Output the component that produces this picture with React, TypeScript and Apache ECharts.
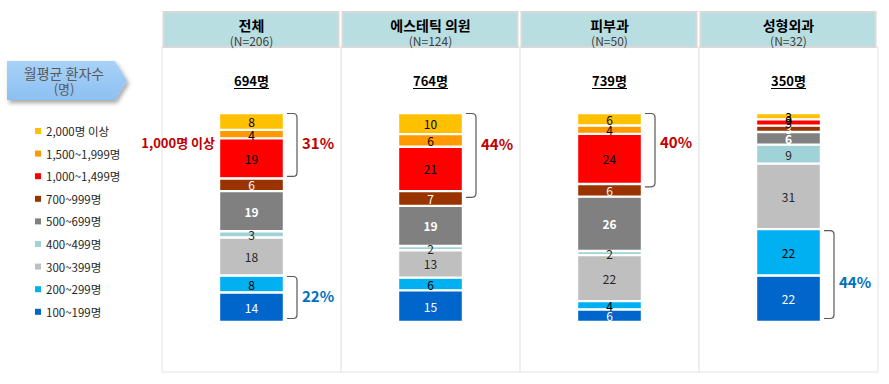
import React, { useEffect, useRef } from "react";
import * as echarts from "echarts";

const FONT = "'Noto Sans CJK KR', 'Noto Sans', sans-serif";

const categories = ["전체", "에스테틱 의원", "피부과", "성형외과"];
const nCounts = ["(N=206)", "(N=124)", "(N=50)", "(N=32)"];
const totals = ["694명", "764명", "739명", "350명"];

// bands, bottom to top
const bandNames = [
  "100~199명",
  "200~299명",
  "300~399명",
  "400~499명",
  "500~699명",
  "700~999명",
  "1,000~1,499명",
  "1,500~1,999명",
  "2,000명 이상",
];
const v100 = [14, 15, 6, 22];
const v200 = [8, 6, 4, 22];
const v300 = [18, 13, 22, 31];
const v400 = [3, 2, 2, 9];
const v500 = [19, 19, 26, 6];
const v700 = [6, 7, 6, 3];
const v1000 = [19, 21, 24, 3];
const v1500 = [4, 6, 4, 0];
const v2000 = [8, 10, 6, 3];
const bandValues = [v100, v200, v300, v400, v500, v700, v1000, v1500, v2000];

const bandColors = ["#0066CC", "#00B0F0", "#BFBFBF", "#A0D3D8", "#808080", "#993300", "#FF0000", "#FF9900", "#FFC000"];
const labelColors = ["#ffffff", "#000000", "#262626", "#262626", "#ffffff", "#ffffff", "#000000", "#000000", "#000000"];
const labelBold = [false, false, false, false, true, false, false, false, false];

// bracket annotations: [category index, from value, to value]
const bracketCats = [0, 1, 2, 0, 3];
const bracketFrom = [68, 58, 63, 0, 0];
const bracketTo = [100, 100, 100, 22, 44];
const bracketTexts = ["31%", "44%", "40%", "22%", "44%"];
const bracketKinds = ["high", "high", "high", "low", "low"];
const bracketLabelDy = [-2, -12, -9, -2, 7];
const sideNote = "1,000명 이상";

const RED = "#C00000";
const BLUE = "#0070C0";

const GRID_LEFT = 162;
const PANEL_W = 179;

export default function App() {
  const ref = useRef<HTMLDivElement>(null);
  useEffect(() => {
    if (!ref.current) return;
    const chart = echarts.init(ref.current, undefined, { renderer: "svg" });

    const colSums = categories.map((_, ci) => bandValues.reduce((s, arr) => s + arr[ci], 0));

    const measure = (t: string, font: string) => {
      const c = document.createElement("canvas").getContext("2d");
      if (!c) return t.length * 9;
      c.font = font;
      return c.measureText(t).width;
    };

    const barSeries = bandNames.map((name, bi) => ({
      name,
      type: "bar",
      stack: "total",
      barWidth: 65,
      data: bandValues[bi].map((v, ci) => ({ value: (v / colSums[ci]) * 100, raw: v })),
      itemStyle: { color: bandColors[bi], borderColor: "#ffffff", borderWidth: 1.2 },
      label: {
        show: true,
        position: "inside",
        formatter: (p: any) => String(p.data.raw),
        color: labelColors[bi],
        fontSize: 12,
        fontWeight: labelBold[bi] ? "bold" : "normal",
        fontFamily: FONT,
      },
      emphasis: { disabled: true },
      z: 3,
    }));

    const annotationSeries = {
      type: "custom",
      coordinateSystem: "cartesian2d",
      z: 4,
      silent: true,
      encode: { x: 0, y: [1, 2] },
      data: bracketCats.map((c, i) => [c, bracketFrom[i], bracketTo[i], i]),
      renderItem: (params: any, api: any) => {
        const cat = api.value(0);
        const from = api.value(1);
        const to = api.value(2);
        const idx = api.value(3);
        const top = api.coord([cat, to]);
        const bot = api.coord([cat, from]);
        const cx = top[0];
        const x0 = cx + 32.5 + 3;
        const x1 = x0 + 10;
        const y1 = top[1] + 0.5;
        const y2 = bot[1] - 3.5;
        const r = 4;
        const d = `M${x0} ${y1} L${x1 - r} ${y1} Q${x1} ${y1} ${x1} ${y1 + r} L${x1} ${y2 - r} Q${x1} ${y2} ${x1 - r} ${y2} L${x0} ${y2}`;
        const color = bracketKinds[idx] === "high" ? RED : BLUE;
        const children: any[] = [
          {
            type: "path",
            shape: { pathData: d },
            style: { fill: "none", stroke: "#595959", lineWidth: 1.2 },
          },
          {
            type: "text",
            style: {
              text: bracketTexts[idx],
              x: x1 + 5,
              y: (y1 + y2) / 2 + bracketLabelDy[idx],
              fill: color,
              fontSize: 15,
              fontWeight: "bold",
              fontFamily: FONT,
              align: "left",
              verticalAlign: "middle",
              textAlign: "left",
              textVerticalAlign: "middle",
            },
          },
        ];
        if (idx === 0) {
          children.push({
            type: "text",
            style: {
              text: sideNote,
              x: cx - 32.5 - 4,
              y: (y1 + y2) / 2 - 2,
              fill: RED,
              fontSize: 13,
              fontWeight: "bold",
              fontFamily: FONT,
              align: "right",
              verticalAlign: "middle",
              textAlign: "right",
              textVerticalAlign: "middle",
            },
          });
        }
        return { type: "group", children };
      },
    };

    const graphics: any[] = [];
    // left arrow title box
    graphics.push({
      type: "polygon",
      z: 1,
      shape: { points: [[7, 61], [115, 61], [127, 80.5], [115, 100], [7, 100]] },
      style: {
        fill: new echarts.graphic.LinearGradient(0, 0, 0, 1, [
          { offset: 0, color: "#A9D2F7" },
          { offset: 1, color: "#8CC0F2" },
        ]),
        shadowBlur: 4,
        shadowOffsetX: 2,
        shadowOffsetY: 3,
        shadowColor: "rgba(0,0,0,0.35)",
      },
    });
    graphics.push({
      type: "text",
      z: 2,
      style: {
        text: "월평균 환자수",
        x: 64,
        y: 73,
        fill: "#595959",
        fontSize: 14,
        fontFamily: FONT,
        align: "center",
        verticalAlign: "middle",
        textAlign: "center",
        textVerticalAlign: "middle",
      },
    });
    graphics.push({
      type: "text",
      z: 2,
      style: {
        text: "(명)",
        x: 64,
        y: 88,
        fill: "#595959",
        fontSize: 13,
        fontFamily: FONT,
        align: "center",
        verticalAlign: "middle",
        textAlign: "center",
        textVerticalAlign: "middle",
      },
    });

    categories.forEach((cat, i) => {
      const px = GRID_LEFT + PANEL_W * i;
      const cx = px + PANEL_W / 2;
      graphics.push({
        type: "rect",
        z: 0,
        shape: { x: px, y: 47, width: PANEL_W, height: 325 },
        style: { fill: "none", stroke: "#EDEDED", lineWidth: 1.5 },
      });
      graphics.push({
        type: "rect",
        z: 1,
        shape: { x: px + 1.5, y: 12, width: PANEL_W - 4, height: 35 },
        style: { fill: "#B9DEE2", stroke: "#D9D9D9", lineWidth: 2 },
      });
      graphics.push({
        type: "text",
        z: 2,
        style: {
          text: cat,
          x: cx,
          y: 24.5,
          fill: "#000000",
          fontSize: 14,
          fontWeight: "bold",
          fontFamily: FONT,
          align: "center",
          verticalAlign: "middle",
          textAlign: "center",
          textVerticalAlign: "middle",
        },
      });
      graphics.push({
        type: "text",
        z: 2,
        style: {
          text: nCounts[i],
          x: cx,
          y: 40,
          fill: "#404040",
          fontSize: 12,
          fontFamily: FONT,
          align: "center",
          verticalAlign: "middle",
          textAlign: "center",
          textVerticalAlign: "middle",
        },
      });
      graphics.push({
        type: "text",
        z: 2,
        style: {
          text: totals[i],
          x: cx,
          y: 80,
          fill: "#000000",
          fontSize: 13,
          fontWeight: "bold",
          fontFamily: FONT,
          align: "center",
          verticalAlign: "middle",
          textAlign: "center",
          textVerticalAlign: "middle",
        },
      });
      const w = measure(totals[i], `bold 13px ${FONT}`);
      graphics.push({
        type: "line",
        z: 2,
        shape: { x1: cx - w / 2, y1: 88.5, x2: cx + w / 2, y2: 88.5 },
        style: { stroke: "#000000", lineWidth: 1 },
      });
    });

    chart.setOption({
      animation: false,
      grid: { left: GRID_LEFT, right: 889 - GRID_LEFT - PANEL_W * 4, top: 113, bottom: 62, containLabel: false },
      xAxis: {
        type: "category",
        data: categories,
        show: false,
        boundaryGap: true,
      },
      yAxis: { type: "value", min: 0, max: 100, show: false },
      legend: {
        orient: "vertical",
        left: 30,
        top: 119,
        padding: 5,
        itemWidth: 6,
        itemHeight: 6,
        itemGap: 8.6,
        icon: "rect",
        selectedMode: false,
        data: [...bandNames].reverse(),
        itemStyle: { borderWidth: 0 },
        textStyle: { fontSize: 11.5, lineHeight: 14, color: "#262626", fontFamily: FONT },
      },
      graphic: graphics,
      series: [...barSeries, annotationSeries],
    } as any);

    return () => chart.dispose();
  }, []);

  return (
    <div
      ref={ref}
      style={{ position: "fixed", left: 0, top: 0, width: 889, height: 384, background: "#ffffff" }}
    />
  );
}
